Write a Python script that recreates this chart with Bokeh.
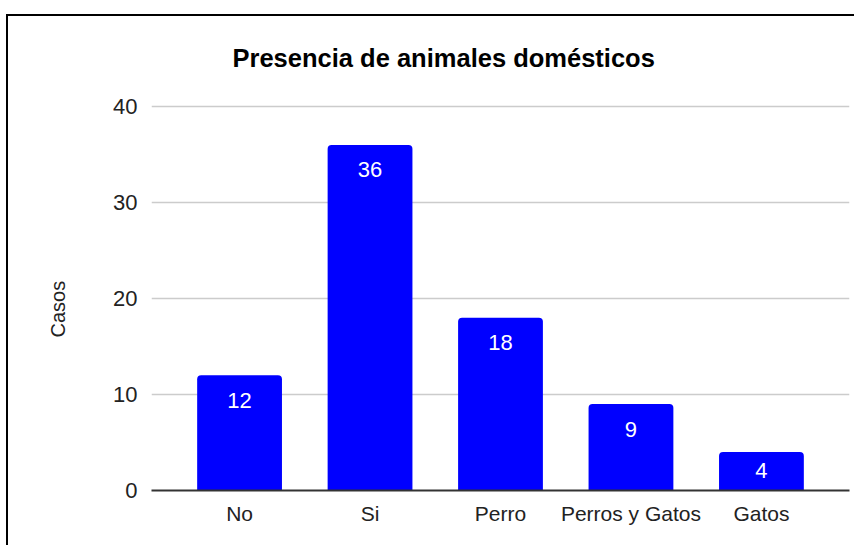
from bokeh.plotting import figure
from bokeh.models import ColumnDataSource, FactorRange, Range1d, FixedTicker, Title
from bokeh.core.properties import value
from bokeh.embed import file_html
from bokeh.resources import INLINE

categories = ["No", "Si", "Perro", "Perros y Gatos", "Gatos"]
casos = [12, 36, 18, 9, 4]
y_ticks = [0, 10, 20, 30, 40]
title_text = "Presencia de animales domésticos"
y_label = "Casos"

FONT = "Liberation Sans"
Y_END = 40.21
FRAME_H = 386  # px of frame height
W, H = 848, 538
MB_TOP, MB_LEFT, MB_RIGHT = 97, 144, 5
MB_BOTTOM = H - MB_TOP - FRAME_H

# value labels: near the top of tall bars, centred in short ones
px_per_unit = FRAME_H / Y_END
lbl_y = [v if v * px_per_unit > 55 else v / 2 for v in casos]
lbl_off = [25 if v * px_per_unit > 55 else -1 for v in casos]

src = ColumnDataSource(dict(cat=categories, casos=casos, lbl=[str(v) for v in casos],
                            lbl_y=lbl_y, lbl_off=lbl_off))

p = figure(
    x_range=FactorRange(factors=categories, range_padding=0.07, range_padding_units="percent"),
    y_range=Range1d(0, Y_END),
    width=W, height=H,
    output_backend="svg", toolbar_location=None,
    min_border_left=MB_LEFT, min_border_right=MB_RIGHT, min_border_top=MB_TOP,
    min_border_bottom=MB_BOTTOM,
)
# outer frame of the chart: top and left rules drawn behind a transparent canvas
p.styles = {
    "background-image": "linear-gradient(#000, #000), linear-gradient(#000, #000)",
    "background-size": "100% 2px, 2px 100%",
    "background-position": "0 7px, 0 7px",
    "background-repeat": "no-repeat",
    "transform": "translate(6px, 7px)",
}
p.border_fill_color = None
p.background_fill_color = None
p.outline_line_color = None

p.title.text = title_text
p.title.align = "left"
p.title.offset = 81
p.title.text_font = FONT
p.title.text_font_size = "25.5px"
p.title.text_font_style = "bold"
p.title.text_color = "#000000"
p.title.standoff = 66

p.xgrid.grid_line_color = None
p.ygrid.grid_line_color = "#cccccc"
p.ygrid.grid_line_width = 1.5
p.yaxis.ticker = FixedTicker(ticks=y_ticks)

p.yaxis.axis_line_color = None
p.yaxis.major_tick_line_color = None
p.yaxis.minor_tick_line_color = None
p.yaxis.major_tick_out = 0
p.yaxis.major_tick_in = 0
p.yaxis.major_label_standoff = 14
p.yaxis.major_label_text_font = FONT
p.yaxis.major_label_text_font_size = "22px"
p.yaxis.major_label_text_color = "#222222"

p.xaxis.axis_line_color = "#333333"
p.xaxis.axis_line_width = 2
p.xaxis.major_tick_line_color = None
p.xaxis.minor_tick_line_color = None
p.xaxis.major_tick_out = 0
p.xaxis.major_tick_in = 0
p.xaxis.major_label_standoff = 11
p.xaxis.major_label_text_font = FONT
p.xaxis.major_label_text_font_size = "21px"
p.xaxis.major_label_text_color = "#222222"

p.vbar(x="cat", top="casos", width=0.65, source=src, fill_color="#0000ff",
       line_color=None, border_radius=(4, 4, 0, 0))

p.text(x="cat", y="lbl_y", text="lbl", source=src, text_color="white",
       text_font=value(FONT), text_font_size="22px", text_align="center",
       text_baseline="alphabetic", y_offset="lbl_off")

# y-axis title as a side title so it can be shifted along the axis
ytitle = Title(text=y_label, align="left", offset=153, vertical_align="top", standoff=80,
               text_font=FONT, text_font_size="20px", text_font_style="normal",
               text_color="#222222")
p.add_layout(ytitle, "left")

open("out.html", "w").write(file_html(p, INLINE))
